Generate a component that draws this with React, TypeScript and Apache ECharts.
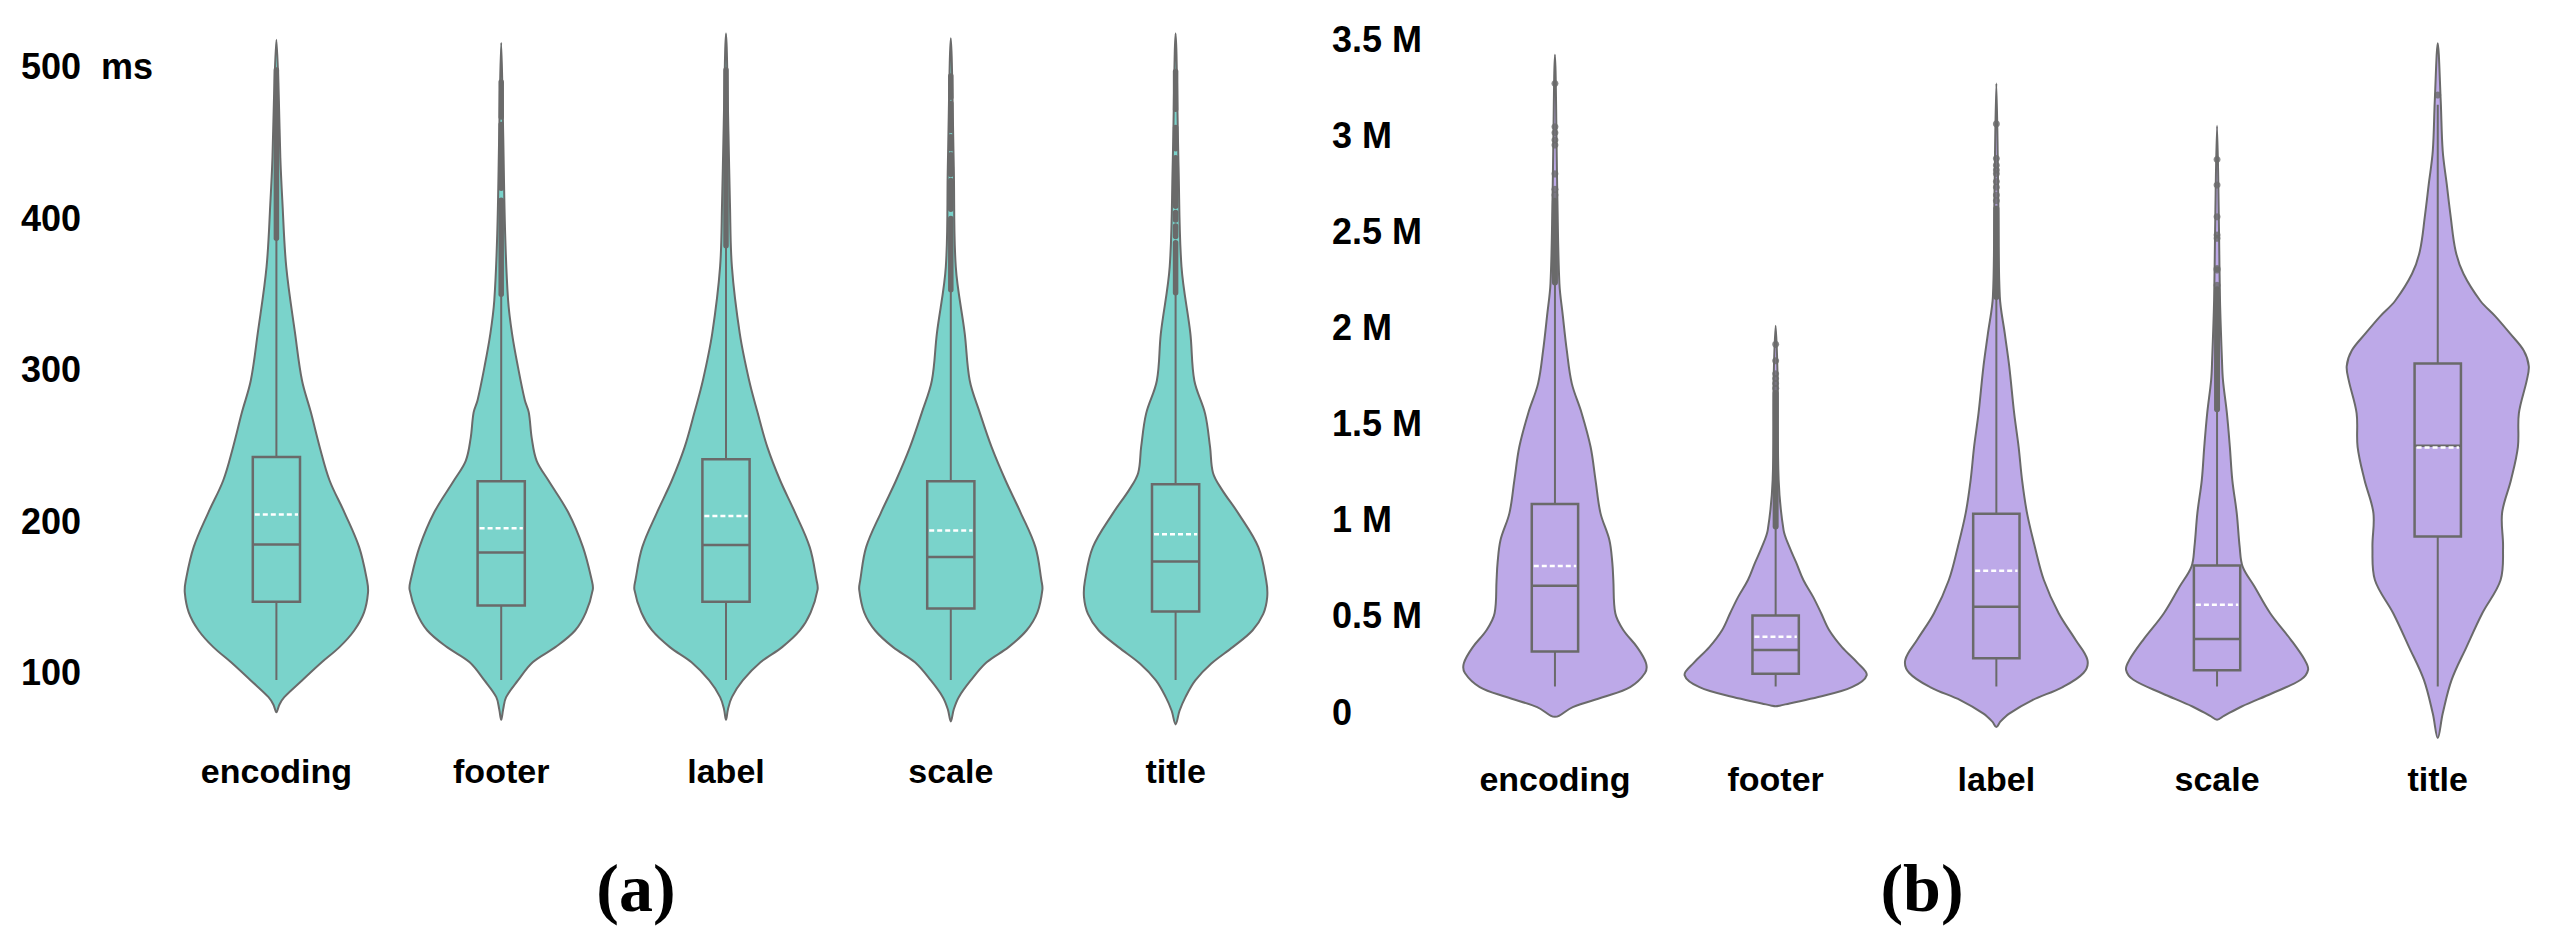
import React, { useEffect, useRef } from 'react';
import * as echarts from 'echarts';

// ---------- data ----------
const categories = ['encoding', 'footer', 'label', 'scale', 'title'];

// (a) rendering time (ms): violin outlines as [value, relative half-width]
const timeEncodingDensity = [[518,0],[478,2.5],[440,4],[412,6],[368,10],[324,19],[293,26],[272,35],[249,44],[227,54],[206,69],[183,84],[161,92],[153,93],[140,89],[128,79],[117,64],[107,46],[95,26],[84,8],[79,3],[74,0]];
const timeFooterDensity = [[516,0],[456,2],[390,4],[346,7],[324,11],[302,17],[280,24],[272,28],[255,31],[240,36],[227,48],[206,68],[183,83],[161,92],[155,93],[140,86],[128,75],[117,55],[107,32],[95,17],[84,5],[76,2],[69,0]];
const timeLabelDensity = [[522,0],[456,2.5],[410,4],[368,6],[324,14],[293,23.5],[272,32],[249,42],[227,55],[206,70],[183,85],[161,92],[155,93],[140,86],[128,75],[117,57],[107,35],[95,17],[84,6],[76,2],[69,0]];
const timeScaleDensity = [[519,0],[434,3],[368,5],[324,14],[293,19],[272,29],[249,41],[227,55],[206,70],[183,85],[161,91],[155,92],[140,87],[128,76],[117,58],[107,36],[95,20],[84,8],[76,3],[68,0]];
const timeTitleDensity = [[522,0],[434,3],[368,6],[324,15],[293,19],[271,30],[249,35],[232,38],[221,47],[205,64],[183,84],[161,92],[150,93],[139,89],[128,78],[117,58],[106,36],[95,20],[84,10],[75,4],[66,0]];

const timeWhiskerLow = [95.3, 95.3, 95.3, 95.3, 95.3];
const timeQ1 = [147, 144.5, 147, 142.5, 140.5];
const timeMedian = [184.7, 179.5, 184.5, 176.5, 173.5];
const timeQ3 = [242.5, 226.5, 241, 226.5, 224.5];
const timeWhiskerHigh = [387, 350, 382, 353, 351];
const timeMean = [204.5, 195.5, 203.5, 194, 191.5];

// dense runs of outliers [category index, from, to]
const timeOutlierRuns = [[0,387,498],[1,350,412],[1,420,462],[1,467,490],[2,382,498],[3,353,400],[3,406,425],[3,429,442],[3,446,454],[3,458,476],[3,480,494],[4,351,384],[4,388,395],[4,399,404],[4,408,440],[4,446,460],[4,472,497]];

const timeTicks = [100, 200, 300, 400, 500];

// (b) size (millions)
const sizeEncodingDensity = [[3.42,0],[2.66,2.5],[2.23,4.5],[2.06,8],[1.88,12],[1.71,17],[1.555,27],[1.38,36],[1.207,41],[1.035,46],[0.895,55],[0.775,58],[0.687,59],[0.514,61],[0.427,69],[0.338,83],[0.255,92],[0.203,91],[0.13,76],[0.078,49],[0.026,18],[-0.02,4],[-0.025,0]];
const sizeFooterDensity = [[2.01,0],[1.73,2],[1.21,3],[0.947,8],[0.858,14],[0.775,21],[0.687,28],[0.598,38],[0.514,46],[0.427,54],[0.338,67],[0.255,83],[0.192,92],[0.13,77],[0.078,43],[0.045,14],[0.033,4],[0.03,0]];
const sizeLabelDensity = [[3.27,0],[2.66,2],[2.16,3.5],[1.97,8.5],[1.8,13],[1.555,18],[1.38,22.5],[1.207,26],[1.035,31],[0.858,39],[0.687,48],[0.514,63],[0.376,80],[0.272,92],[0.203,88],[0.13,67],[0.061,36],[-0.008,13],[-0.05,4],[-0.078,0]];
const sizeScaleDensity = [[3.05,0],[2.5,2],[2.14,3],[1.83,5],[1.727,6],[1.555,10],[1.38,13],[1.207,15.5],[1.035,20],[0.858,23],[0.757,26],[0.653,38],[0.514,54],[0.376,75],[0.272,89],[0.22,92.5],[0.168,85],[0.098,56],[0.029,25],[-0.02,7],[-0.04,0]];
const sizeTitleDensity = [[3.48,0],[3.18,3],[2.92,5],[2.75,9],[2.58,13],[2.4,18],[2.28,26],[2.14,43],[2.06,58],[1.97,73],[1.88,87],[1.8,92],[1.727,90],[1.555,82],[1.38,81],[1.207,74],[1.035,65],[0.858,66],[0.687,63.5],[0.514,45],[0.338,29],[0.167,14],[-0.008,5],[-0.135,0]];

const sizeWhiskerLow = [0.133, 0.133, 0.133, 0.133, 0.133];
const sizeQ1 = [0.315, 0.199, 0.28, 0.217, 0.914];
const sizeMedian = [0.657, 0.323, 0.548, 0.38, 1.386];
const sizeQ3 = [1.082, 0.502, 1.032, 0.763, 1.814];
const sizeWhiskerHigh = [2.235, 0.96, 2.16, 1.575, 3.16];
const sizeMean = [0.76, 0.392, 0.735, 0.558, 1.377];

const sizeOutlierRuns = [[0,2.235,2.66],[1,0.965,1.66],[2,2.16,2.62],[3,1.575,2.2]];
const sizeOutlierPoints = [[0,3.27],[0,3.045],[0,3.014],[0,2.976],[0,2.95],[0,2.8],[0,2.72],[0,2.69],[1,1.913],[1,1.828],[1,1.76],[1,1.735],[1,1.71],[1,1.685],[2,3.06],[2,2.88],[2,2.845],[2,2.82],[2,2.8],[2,2.76],[2,2.73],[2,2.69],[2,2.66],[3,2.875],[3,2.742],[3,2.577],[3,2.482],[3,2.465],[3,2.308],[3,2.3],[3,2.22],[4,3.21]];

const sizeTicks = [0, 0.5, 1, 1.5, 2, 2.5, 3, 3.5];

// ---------- style ----------
const TEAL = '#7ad3cb';
const PURPLE = '#bda9e8';
const GRAY = '#6a6a6a';
const FONT = '"Liberation Sans", Arial, sans-serif';

function violinSeries(ax: number, profiles: number[][][], fill: string, widthFrac: number) {
  return {
    type: 'custom',
    xAxisIndex: ax,
    yAxisIndex: ax,
    clip: false,
    z: 1,
    data: profiles.map((_, i) => [i, 0]),
    encode: { x: 0, y: 1 },
    renderItem: (params: any, api: any) => {
      const i = api.value(0);
      const prof = profiles[i];
      const maxW = Math.max(...prof.map((p) => p[1]));
      const band = api.size([1, 0])[0];
      const half = (band * widthFrac) / 2;
      const cx = api.coord([i, 0])[0];
      const right = prof.map(([v, w]) => [cx + (w / maxW) * half, api.coord([i, v])[1]]);
      const left = prof.slice(1, -1).reverse().map(([v, w]) => [cx - (w / maxW) * half, api.coord([i, v])[1]]);
      return {
        type: 'polygon',
        shape: { points: right.concat(left), smooth: 0.35 },
        style: { fill, stroke: GRAY, lineWidth: 2 },
      };
    },
  };
}

function boxSeries(ax: number, lo: number[], q1: number[], med: number[], q3: number[], hi: number[], mean: number[]) {
  return {
    type: 'custom',
    xAxisIndex: ax,
    yAxisIndex: ax,
    clip: false,
    z: 2,
    data: categories.map((_, i) => [i, lo[i], q1[i], med[i], q3[i], hi[i], mean[i]]),
    encode: { x: 0, y: [1, 2, 3, 4, 5] },
    renderItem: (params: any, api: any) => {
      const i = api.value(0);
      const cx = api.coord([i, 0])[0];
      const band = api.size([1, 0])[0];
      const hw = band * 0.105;
      const y = (k: number) => api.coord([i, api.value(k)])[1];
      return {
        type: 'group',
        children: [
          { type: 'line', shape: { x1: cx, y1: y(1), x2: cx, y2: y(2) }, style: { stroke: GRAY, lineWidth: 2 } },
          { type: 'line', shape: { x1: cx, y1: y(4), x2: cx, y2: y(5) }, style: { stroke: GRAY, lineWidth: 2 } },
          { type: 'rect', shape: { x: cx - hw, y: y(4), width: hw * 2, height: y(2) - y(4) }, style: { fill: 'none', stroke: GRAY, lineWidth: 2.5 } },
          { type: 'line', shape: { x1: cx - hw, y1: y(3), x2: cx + hw, y2: y(3) }, style: { stroke: GRAY, lineWidth: 2.5 } },
          { type: 'line', shape: { x1: cx - hw + 2, y1: y(6), x2: cx + hw - 2, y2: y(6) }, style: { stroke: '#ffffff', lineWidth: 2.5, lineDash: [5, 3] } },
        ],
      };
    },
  };
}

function runSeries(ax: number, runs: number[][], width: number) {
  return {
    type: 'custom',
    xAxisIndex: ax,
    yAxisIndex: ax,
    clip: false,
    z: 3,
    data: runs,
    encode: { x: 0, y: [1, 2] },
    renderItem: (params: any, api: any) => {
      const i = api.value(0);
      const cx = api.coord([i, 0])[0];
      const y1 = api.coord([i, api.value(1)])[1];
      const y2 = api.coord([i, api.value(2)])[1];
      return {
        type: 'line',
        shape: { x1: cx, y1, x2: cx, y2 },
        style: { stroke: GRAY, lineWidth: width, lineCap: 'round' },
      };
    },
  };
}

const hidden = { show: false };

function App() {
  const ref = useRef<HTMLDivElement>(null);
  useEffect(() => {
    if (!ref.current) return;
    const chart = echarts.init(ref.current, null, { renderer: 'svg' });
    const catLabel = { fontSize: 34, fontWeight: 'bold', color: '#000', fontFamily: FONT, interval: 0 };
    const valLabel = { fontSize: 36, fontWeight: 'bold', color: '#000', fontFamily: FONT, align: 'left' };
    const option = {
      animation: false,
      backgroundColor: '#ffffff',
      grid: [
        { left: 164, top: 21.5, width: 1124, height: 712 },
        { left: 1444.6, top: 20.1, width: 1103.5, height: 730.4 },
      ],
      xAxis: [
        { type: 'category', gridIndex: 0, data: categories, axisLine: hidden, axisTick: hidden, splitLine: hidden, axisLabel: { ...catLabel, margin: 20 } },
        { type: 'category', gridIndex: 1, data: categories, axisLine: hidden, axisTick: hidden, splitLine: hidden, axisLabel: { ...catLabel, margin: 11 } },
      ],
      yAxis: [
        {
          type: 'value', gridIndex: 0, min: 60, max: 530, interval: 10,
          axisLine: hidden, axisTick: hidden, splitLine: hidden,
          axisLabel: {
            ...valLabel, margin: 143,
            formatter: (v: number) => {
              const t = timeTicks.find((k) => Math.abs(k - v) < 1e-6);
              if (t === undefined) return '';
              return t === 500 ? '500\u00a0\u00a0ms' : String(t);
            },
          },
        },
        {
          type: 'value', gridIndex: 1, min: -0.2, max: 3.6, interval: 0.1,
          axisLine: hidden, axisTick: hidden, splitLine: hidden,
          axisLabel: {
            ...valLabel, margin: 112.6,
            formatter: (v: number) => {
              const t = sizeTicks.find((k) => Math.abs(k - v) < 1e-6);
              if (t === undefined) return '';
              return t === 0 ? '0' : t + ' M';
            },
          },
        },
      ],
      graphic: [
        { type: 'text', x: 636, y: 888, style: { text: '(a)', fontSize: 68, fontWeight: 'bold', fontFamily: '"Liberation Serif", "DejaVu Serif", serif', fill: '#000', align: 'center', verticalAlign: 'middle' } },
        { type: 'text', x: 1922, y: 888, style: { text: '(b)', fontSize: 68, fontWeight: 'bold', fontFamily: '"Liberation Serif", "DejaVu Serif", serif', fill: '#000', align: 'center', verticalAlign: 'middle' } },
      ],
      series: [
        violinSeries(0, [timeEncodingDensity, timeFooterDensity, timeLabelDensity, timeScaleDensity, timeTitleDensity], TEAL, 0.815),
        boxSeries(0, timeWhiskerLow, timeQ1, timeMedian, timeQ3, timeWhiskerHigh, timeMean),
        runSeries(0, timeOutlierRuns, 5.5),
        violinSeries(1, [sizeEncodingDensity, sizeFooterDensity, sizeLabelDensity, sizeScaleDensity, sizeTitleDensity], PURPLE, 0.825),
        boxSeries(1, sizeWhiskerLow, sizeQ1, sizeMedian, sizeQ3, sizeWhiskerHigh, sizeMean),
        runSeries(1, sizeOutlierRuns, 6),
        {
          type: 'scatter', xAxisIndex: 1, yAxisIndex: 1, z: 4, clip: false,
          data: sizeOutlierPoints, symbolSize: 7, itemStyle: { color: GRAY },
        },
      ],
    };
    chart.setOption(option as any);
    return () => chart.dispose();
  }, []);
  return <div ref={ref} style={{ position: 'fixed', left: 0, top: 0, width: '2557px', height: '942px' }} />;
}

export default App;
